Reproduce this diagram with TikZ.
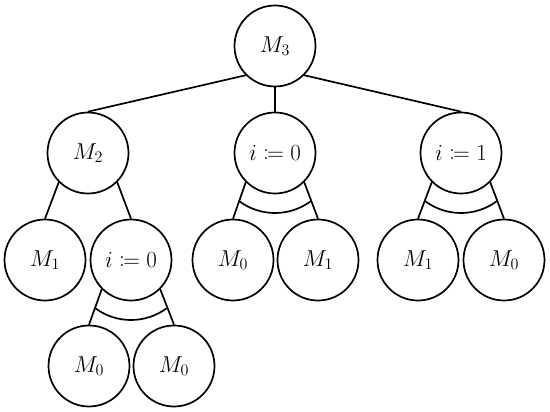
\documentclass[tikz,border=0pt]{standalone}
\usepackage{fix-cm}
\usepackage{mathtools}
\usetikzlibrary{calc}
\newcommand\nodefnt{\fontsize{23}{27}\selectfont}
\begin{document}
\begin{tikzpicture}[x=1pt,y=-1pt,
  st/.style={circle,draw,line width=1.7pt,minimum size=81pt,inner sep=0pt,font=\nodefnt},
  edge/.style={line width=1.7pt},
  andarc/.style={line width=1.7pt}]
\useasboundingbox (0,0) rectangle (550,412);
\node[st] (m3) at (275,46) {$M_3$};
\node[st] (m2) at (88,153) {$M_2$};
\node[st] (a) at (275,153) {$i \coloneqq 0$};
\node[st] (b) at (461,153) {$i \coloneqq 1$};
\node[st] (m1a) at (45,260) {$M_1$};
\node[st] (c) at (131,260) {$i \coloneqq 0$};
\node[st] (m0a) at (233,260) {$M_0$};
\node[st] (m1b) at (318,260) {$M_1$};
\node[st] (m1c) at (418,260) {$M_1$};
\node[st] (m0c) at (504,260) {$M_0$};
\node[st] (m0d) at (89,366) {$M_0$};
\node[st] (m0e) at (174,366) {$M_0$};
\draw[edge] (m3.south west) -- (m2.north);
\draw[edge] (m3.south) -- (a.north);
\draw[edge] (m3.south east) -- (b.north);
\draw[edge] (m2.south west) -- (m1a.north);
\draw[edge] (m2.south east) -- (c.north);
\draw[edge] (a.south west) -- (m0a.north);
\draw[edge] (a.south east) -- (m1b.north);
\draw[edge] (b.south west) -- (m1c.north);
\draw[edge] (b.south east) -- (m0c.north);
\draw[edge] (c.south west) -- (m0d.north);
\draw[edge] (c.south east) -- (m0e.north);
\foreach \n in {a,b,c}{
  \draw[andarc] ($(\n.center)+(-35.6,48.3)$) arc[start angle=126.4, end angle=53.6, radius=60];
}
\end{tikzpicture}
\end{document}
